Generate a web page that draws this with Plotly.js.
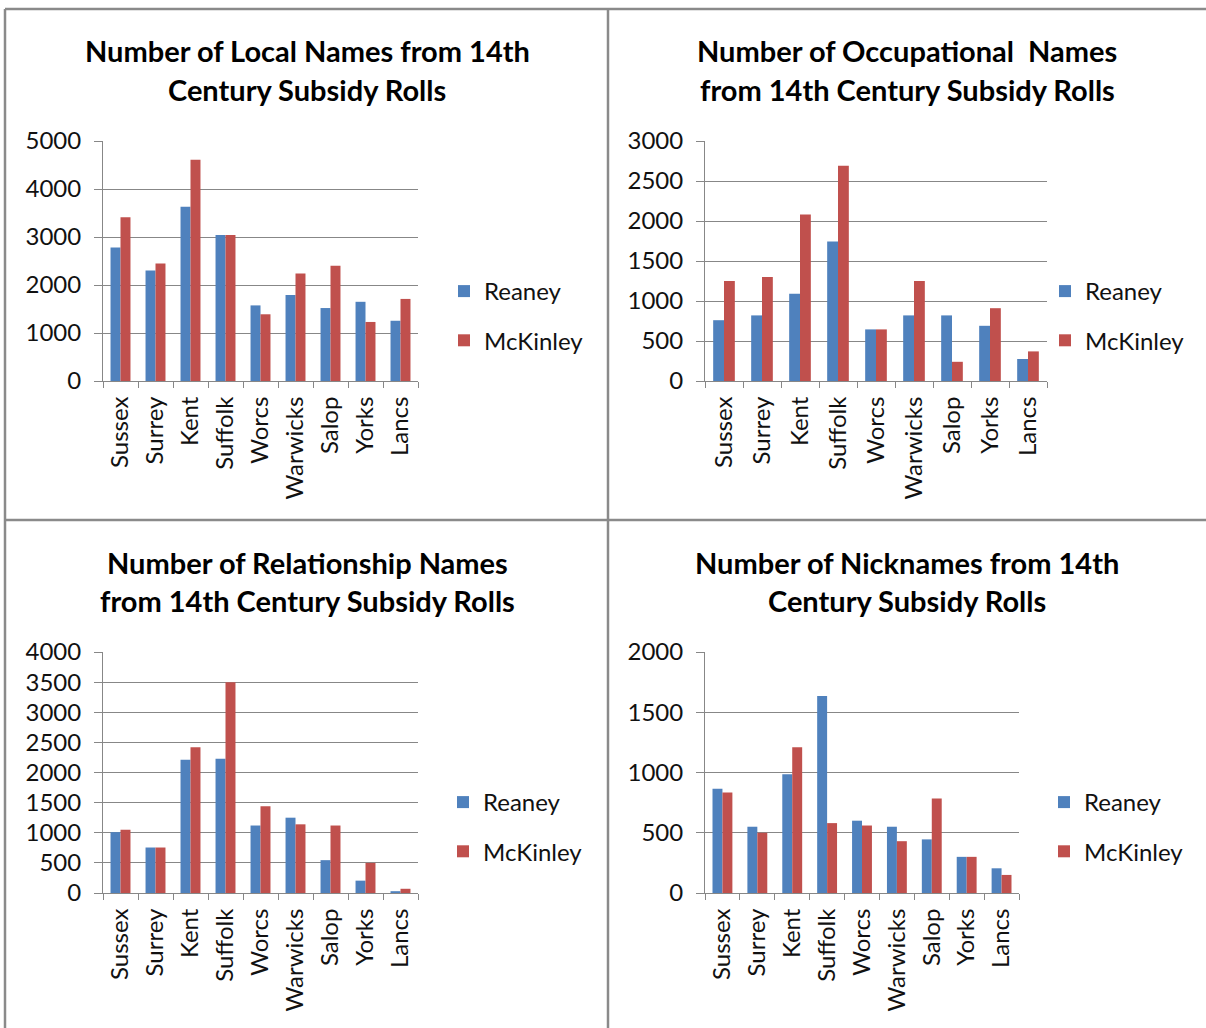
<!DOCTYPE html>
<html>
<head>
<meta charset="utf-8">
<script src="https://cdn.plot.ly/plotly-3.0.1.min.js"></script>
<style>html,body{margin:0;padding:0;background:#fff;}#chart{width:1206px;height:1028px;}</style>
</head>
<body>
<div id="chart"></div>
<script>
// ---- data ----
const counties = ["Sussex","Surrey","Kent","Suffolk","Worcs","Warwicks","Salop","Yorks","Lancs"];
const seriesNames = ["Reaney","McKinley"];

const localReaney   = [2780, 2300, 3630, 3040, 1575, 1790, 1520, 1650, 1255];
const localMcKinley = [3410, 2450, 4610, 3040, 1390, 2240, 2400, 1230, 1710];

const occReaney   = [760, 820, 1090, 1745, 645, 820, 820, 690, 275];
const occMcKinley = [1250, 1300, 2080, 2690, 645, 1250, 240, 910, 370];

const relReaney   = [1010, 755, 2210, 2230, 1120, 1250, 545, 205, 30];
const relMcKinley = [1050, 755, 2420, 3500, 1440, 1140, 1120, 500, 70];

const nickReaney   = [865, 550, 985, 1635, 600, 550, 445, 300, 205];
const nickMcKinley = [835, 500, 1210, 580, 560, 430, 785, 300, 150];

const titles = [
  ["Number of Local Names from 14th", "Century Subsidy Rolls"],
  ["Number of Occupational  Names", "from 14th Century Subsidy Rolls"],
  ["Number of Relationship Names", "from 14th Century Subsidy Rolls"],
  ["Number of Nicknames from 14th", "Century Subsidy Rolls"]
];
const yMax = [5000, 3000, 4000, 2000];
const yStep = [1000, 500, 500, 500];

// ---- layout helpers ----
const W = 1206, H = 1028;
const px = x => x / W;
const py = y => 1 - y / H;
const FONT = "Lato, 'Open Sans', sans-serif";
const BLUE = "#4F81BD", RED = "#C0504D", GRID = "#878787";

const panels = [
  {x0:103, x1:418,  y0:141, y1:381, tx:307, ty:[50,89],   lx:444,  ly:[287,336]},
  {x0:705, x1:1047, y0:141, y1:381, tx:907, ty:[50,89],   lx:1045, ly:[287,336]},
  {x0:103, x1:418,  y0:652, y1:893, tx:307, ty:[562,600], lx:443,  ly:[798,847]},
  {x0:705, x1:1019, y0:652, y1:893, tx:907, ty:[562,600], lx:1044, ly:[798,847]}
];
const dataSets = [
  [localReaney, localMcKinley],
  [occReaney, occMcKinley],
  [relReaney, relMcKinley],
  [nickReaney, nickMcKinley]
];

const traces = [];
const layout = {
  width: W, height: H,
  margin: {l:0, r:0, t:0, b:0},
  paper_bgcolor: "#fff", plot_bgcolor: "#fff",
  barmode: "group", bargap: 0.43, bargroupgap: 0,
  font: {family: FONT, size: 24, color: "#222"},
  annotations: [], shapes: []
};

panels.forEach((p, i) => {
  const n = i === 0 ? "" : String(i + 1);
  const lg = "legend" + n;
  const [r, m] = dataSets[i];
  traces.push({type:"bar", x:counties, y:r, name:seriesNames[0], marker:{color:BLUE},
    xaxis:"x"+n, yaxis:"y"+n, legend:lg, legendgroup:"a"+i, hoverinfo:"y"});
  traces.push({type:"bar", x:counties, y:m, name:seriesNames[1], marker:{color:RED},
    xaxis:"x"+n, yaxis:"y"+n, legend:lg, legendgroup:"b"+i, hoverinfo:"y"});

  layout["xaxis"+n] = {
    domain:[px(p.x0), px(p.x1)], anchor:"y"+n, type:"category",
    showline:true, linecolor:GRID, linewidth:1,
    ticks:"outside", tickson:"boundaries", ticklen:6, tickcolor:GRID,
    ticklabelstandoff:5,
    tickangle:-90, tickfont:{family:FONT, size:24, color:"#111"},
    showgrid:false, fixedrange:true
  };
  layout["yaxis"+n] = {
    domain:[py(p.y1), py(p.y0)], anchor:"x"+n,
    range:[0, yMax[i]], dtick:yStep[i], tick0:0,
    showline:true, linecolor:GRID, linewidth:1,
    ticks:"outside", ticklen:8, tickcolor:GRID, ticklabelstandoff:8,
    showgrid:true, gridcolor:GRID, gridwidth:1, zeroline:false,
    tickfont:{family:FONT, size:24, color:"#111"}, fixedrange:true
  };
  layout[lg] = {
    x:px(p.lx), y:py(p.ly[0] - 18), xanchor:"left", yanchor:"top",
    bgcolor:"rgba(0,0,0,0)", font:{family:FONT, size:24, color:"#111"},
    tracegroupgap: 15, itemclick:false, itemdoubleclick:false
  };
  p.ty.forEach((yy, k) => {
    layout.annotations.push({
      xref:"paper", yref:"paper", x:px(p.tx), y:py(yy), xanchor:"center", yanchor:"middle",
      text:"<b>" + titles[i][k] + "</b>", showarrow:false,
      font:{family:FONT, size:29, color:"#000"}
    });
  });
});

// panel frame lines
const frame = {color:"#8a8a8a", width:2.5};
[
  [5, 9, 1206, 9],
  [5, 9, 5, 1028],
  [608, 9, 608, 1028],
  [5, 520, 1206, 520]
].forEach(([a,b,c,d]) => layout.shapes.push({type:"line", xref:"paper", yref:"paper",
  x0:px(a), y0:py(b), x1:px(c), y1:py(d), line:frame, layer:"above"}));

Plotly.newPlot("chart", traces, layout, {staticPlot:true, displayModeBar:false});
</script>
</body>
</html>
